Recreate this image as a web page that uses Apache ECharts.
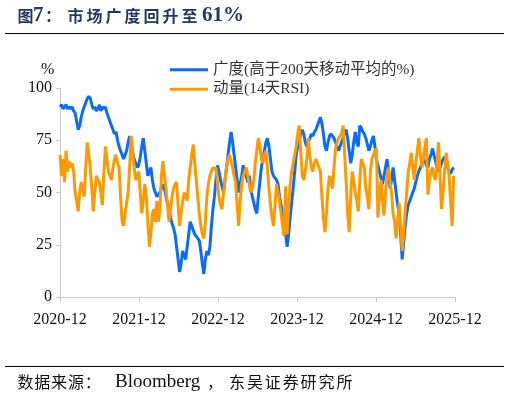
<!DOCTYPE html>
<html>
<head>
<meta charset="utf-8">
<script src="https://cdn.jsdelivr.net/npm/echarts@6/dist/echarts.min.js"></script>
<style>
html,body{margin:0;padding:0;background:#fff;}
#chart{width:510px;height:400px;}
</style>
</head>
<body>
<div id="chart"></div>
<script>
// x tick labels (one per year, Dec)
var xTickLabels = ['2020-12','2021-12','2022-12','2023-12','2024-12','2025-12'];
var startDate = '2020-12-01';   // weekly observations from here
var seriesNames = ['广度(高于200天移动平均的%)', '动量(14天RSI)'];

// 广度: % of stocks above 200-day MA (weekly)
var breadth = [
 91,92,90,91,92,90,91,90,91,89,
 88,84,80,82,86,89,91,93,95,96,
 95,92,90,91,89,90,92,89,91,90,
 91,88,86,84,82,80,78,79,75,72,
 70,68,66,68,70,74,77,73,69,66,
 64,62,63,67,72,76,70,64,58,60,
 62,56,52,50,48,49,50,52,54,52,
 48,45,42,38,35,33,30,24,18,12,
 16,22,20,18,24,30,36,34,32,30,
 30,28,27,22,16,11,18,22,20,24,
 34,42,48,56,63,60,56,53,50,56,
 62,68,74,79,74,68,62,56,50,54,
 58,63,60,58,55,58,52,48,45,42,
 40,48,55,62,66,70,74,76,72,66,
 60,58,57,56,54,48,44,40,35,30,
 24,30,38,45,52,60,68,72,75,78,
 80,78,74,72,74,76,78,77,79,80,
 82,84,86,83,78,72,70,74,77,78,
 78,76,74,72,70,72,74,76,79,80,
 76,70,64,68,74,79,74,72,82,81,
 79,78,76,73,70,72,75,77,72,66,
 63,60,57,54,58,62,66,60,52,56,
 62,56,50,44,40,30,18,26,34,40,
 44,46,48,50,52,55,58,60,62,64,
 66,65,63,62,66,68,71,68,65,62,
 60,62,64,66,67,64,62,60,59,61,
 62
];

// 动量: 14-day RSI (weekly)
var momentum = [
 68,58,66,55,70,60,65,62,64,60,
 50,46,41,50,55,52,48,62,74,68,
 62,52,41,50,58,56,55,50,44,60,
 72,66,60,58,56,62,66,68,64,62,
 48,36,34,40,45,50,62,77,70,62,
 56,58,60,50,40,46,54,48,36,24,
 30,40,42,36,46,36,42,58,65,58,
 52,44,36,42,48,52,54,55,44,34,
 40,46,50,48,46,56,62,68,73,64,
 56,48,40,34,30,28,36,48,54,58,
 60,62,61,62,55,48,44,42,50,56,
 62,66,68,65,62,58,55,44,34,46,
 54,58,60,62,58,54,50,52,56,64,
 70,76,72,66,64,68,70,62,52,44,
 38,34,44,54,50,46,40,34,29,53,
 30,42,54,60,64,68,72,78,82,70,
 58,56,60,66,76,68,62,60,64,66,
 66,62,60,48,38,31,40,52,58,55,
 52,62,71,74,76,77,78,82,82,55,
 40,31,48,60,56,50,46,41,56,66,
 64,62,52,48,42,60,66,68,70,71,
 38,48,56,46,39,50,58,62,55,50,
 40,36,28,36,45,34,22,30,42,50,
 60,64,69,62,56,64,70,76,68,62,
 66,72,76,49,56,60,62,58,56,64,
 74,58,42,50,60,69,64,58,46,34,
 58
];

// x position in months since start (weekly steps)
function monthsOf(i){ return i * 7 / 30.4375; }
function toPairs(arr){ return arr.map(function(v,i){ return [monthsOf(i), v]; }); }

var serif = '"Liberation Serif","Times New Roman",serif';
var cjkFont = '"Noto Sans CJK SC",sans-serif';
var mixed = '"Liberation Serif","Noto Sans CJK SC",serif';

// helper: text elements placed one character per cell
function spaced(str, x0, pitch, y, font, fill) {
  var out = [];
  for (var i = 0; i < str.length; i++) {
    out.push({ type: 'text', silent: true,
      style: { text: str[i], x: x0 + i * pitch, y: y, font: font, fill: fill, verticalAlign: 'middle' } });
  }
  return out;
}
var titleFill = '#233a5e';
var tY = 15.5, sY = 382;
var graphics = [].concat(
  spaced('图', 17.5, 19, tY, 'bold 16px ' + cjkFont, titleFill),
  [{ type: 'text', silent: true, style: { text: '7', x: 33, y: tY, font: 'bold 21px ' + serif, fill: titleFill, verticalAlign: 'middle' } }],
  spaced('：', 45, 19, tY, 'bold 16px ' + cjkFont, titleFill),
  spaced('市场广度回升至', 67.5, 19, tY, 'bold 16px ' + cjkFont, titleFill),
  [{ type: 'text', silent: true, style: { text: '61%', x: 202, y: tY, font: 'bold 21px ' + serif, fill: titleFill, verticalAlign: 'middle' } }],
  [{ type: 'line', silent: true, shape: { x1: 5, y1: 33.5, x2: 504, y2: 33.5 }, style: { stroke: '#000', lineWidth: 1 } }],
  [{ type: 'text', silent: true, style: { text: '%', x: 41, y: 70, font: '16px ' + serif, fill: '#111', verticalAlign: 'middle' } }],
  [{ type: 'line', silent: true, shape: { x1: 5, y1: 366.5, x2: 504, y2: 366.5 }, style: { stroke: '#000', lineWidth: 1 } }],
  spaced('数据来源：', 17.5, 16.8, sY, '16px ' + cjkFont, '#111'),
  [{ type: 'text', silent: true, style: { text: 'Bloomberg', x: 115, y: sY, font: '19px ' + serif, fill: '#111', verticalAlign: 'middle' } }],
  spaced('，', 207, 17, sY, '16px ' + cjkFont, '#111'),
  spaced('东吴证券研究所', 229, 17.9, sY, '16px ' + cjkFont, '#111')
);

var chart = echarts.init(document.getElementById('chart'), null, {renderer:'canvas'});
chart.setOption({
  animation: false,
  backgroundColor: '#fff',
  grid: { left: 60, right: 55, top: 88, bottom: 103, containLabel: false },
  legend: {
    orient: 'vertical',
    left: 165, top: 57,
    itemWidth: 38, itemHeight: 3,
    itemGap: 4,
    icon: 'rect',
    textStyle: { fontSize: 15.5, fontFamily: mixed, color: '#333' },
    data: seriesNames
  },
  xAxis: {
    type: 'value', min: 0, max: 60, interval: 12,
    axisLine: { show: true, lineStyle: { color: '#c8c8c8', width: 1 } },
    axisTick: { show: true, length: 5, lineStyle: { color: '#c8c8c8' } },
    splitLine: { show: false },
    axisLabel: {
      margin: 15, fontSize: 16, fontFamily: serif, color: '#111',
      formatter: function(v){ return xTickLabels[Math.round(v/12)] || ''; }
    }
  },
  yAxis: {
    type: 'value', min: 0, max: 100, interval: 25,
    axisLine: { show: true, lineStyle: { color: '#c8c8c8', width: 1 } },
    axisTick: { show: true, length: 4, lineStyle: { color: '#c8c8c8' } },
    splitLine: { show: false },
    axisLabel: { margin: 8, fontSize: 16, fontFamily: serif, color: '#111' }
  },
  series: [
    { name: seriesNames[0], type: 'line', data: toPairs(breadth), showSymbol: false,
      lineStyle: { color: '#0A6BFF', width: 3 }, itemStyle: { color: '#0A6BFF' } },
    { name: seriesNames[1], type: 'line', data: toPairs(momentum), showSymbol: false,
      lineStyle: { color: '#FF9900', width: 3 }, itemStyle: { color: '#FF9900' } }
  ],
  graphic: graphics
});
</script>
</body>
</html>
